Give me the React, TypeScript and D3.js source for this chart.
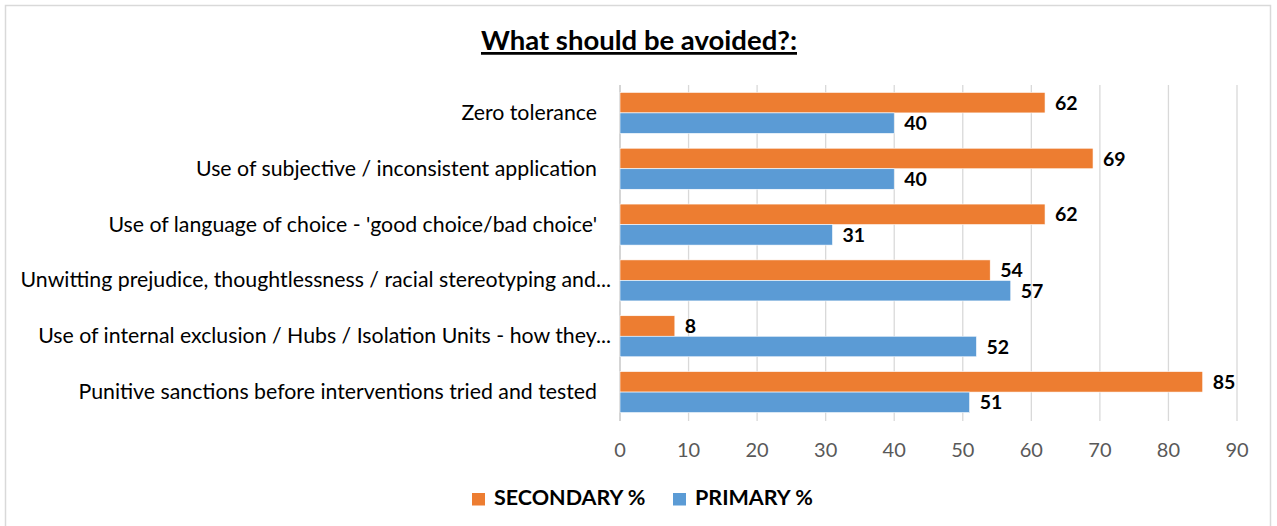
import React from "react";
import * as d3 from "d3";

const categories = [
  "Zero tolerance",
  "Use of subjective / inconsistent application",
  "Use of language of choice - 'good choice/bad choice'",
  "Unwitting prejudice, thoughtlessness / racial stereotyping and...",
  "Use of internal exclusion / Hubs / Isolation Units - how they...",
  "Punitive sanctions before interventions tried and tested",
];
const secondaryValues = [62, 69, 62, 54, 8, 85];
const primaryValues = [40, 40, 31, 57, 52, 51];
const xTicks = [0, 10, 20, 30, 40, 50, 60, 70, 80, 90];
const seriesNames = ["SECONDARY %", "PRIMARY %"];

const W = 1277;
const H = 526;
const ORANGE = "#ED7D31";
const BLUE = "#5B9BD5";
const FONT = "Lato, 'Open Sans', sans-serif";

export default function App() {
  const x = d3.scaleLinear().domain([0, 90]).range([620, 1237]);
  const y = d3
    .scaleBand<string>()
    .domain(categories)
    .range([85, 420])
    .paddingInner(0.265)
    .paddingOuter(0.1325);
  const bh = y.bandwidth() / 2;

  const series = [
    { name: seriesNames[0], values: secondaryValues, color: ORANGE, offset: 0, lx: 472 },
    { name: seriesNames[1], values: primaryValues, color: BLUE, offset: bh, lx: 673 },
  ];

  return (
    <svg
      width={W}
      height={H}
      style={{ position: "absolute", left: 0, top: 0, background: "#fff" }}
      fontFamily={FONT}
    >
      <rect x={5.5} y={5.5} width={1265} height={540} fill="#fff" stroke="#d9d9d9" strokeWidth={1.5} />

      {/* title */}
      <text x={639} y={50} textAnchor="middle" fontSize={27.5} fontWeight="bold" fill="#000" textDecoration="underline">
        What should be avoided?:
      </text>

      {/* vertical gridlines */}
      {xTicks.map((t) => (
        <line
          key={t}
          x1={x(t)}
          x2={x(t)}
          y1={85}
          y2={421}
          stroke={t === 0 ? "#bfbfbf" : "#d9d9d9"}
          strokeWidth={1.3}
        />
      ))}

      {/* bars */}
      {series.map((s) =>
        categories.map((c, i) => (
          <rect
            key={s.name + c}
            x={x(0)}
            y={(y(c) as number) + s.offset}
            width={x(s.values[i]) - x(0)}
            height={bh}
            fill={s.color}
            stroke="#fff"
            strokeWidth={0.6}
          />
        ))
      )}

      {/* value labels */}
      {series.map((s) =>
        categories.map((c, i) => (
          <text
            key={"v" + s.name + c}
            x={x(s.values[i]) + 10}
            y={(y(c) as number) + s.offset + bh / 2}
            dy="0.36em"
            fontSize={19.5}
            fontWeight="bold"
            fill="#000"
          >
            {s.values[i]}
          </text>
        ))
      )}

      {/* category labels */}
      {categories.map((c) => (
        <text
          key={"c" + c}
          x={c.endsWith("...") ? 611 : 597}
          y={(y(c) as number) + y.bandwidth() / 2}
          dy="0.33em"
          textAnchor="end"
          fontSize={21.3}
          fill="#000"
        >
          {c}
        </text>
      ))}

      {/* x tick labels */}
      {xTicks.map((t) => (
        <text key={"t" + t} x={x(t)} y={457} textAnchor="middle" fontSize={20} fill="#595959">
          {t}
        </text>
      ))}

      {/* legend */}
      {series.map((s) => (
        <g key={"l" + s.name}>
          <rect x={s.lx} y={493} width={13} height={12.5} fill={s.color} />
          <text x={s.lx + 22} y={505} fontSize={21.5} fontWeight="bold" fill="#000">
            {s.name}
          </text>
        </g>
      ))}
    </svg>
  );
}
